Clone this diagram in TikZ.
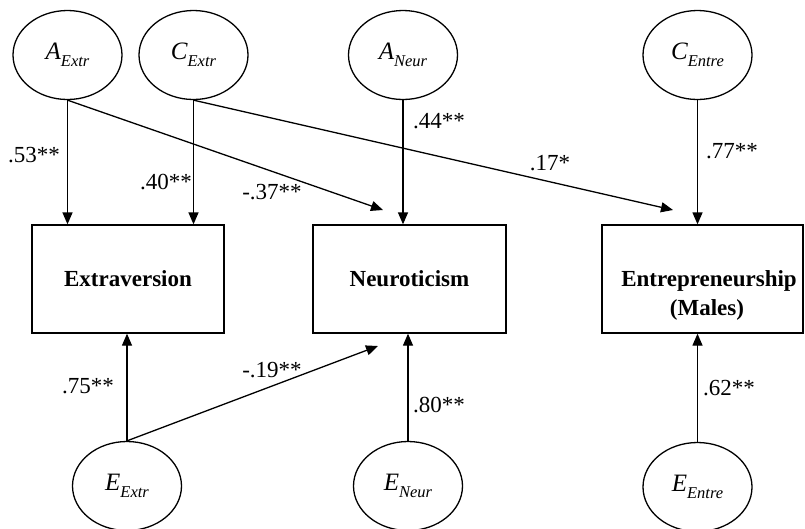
\documentclass[tikz,border=0pt]{standalone}
\usepackage{fontspec}
\setmainfont{Liberation Serif}
\usetikzlibrary{arrows.meta,shapes.geometric}
\newcommand{\latvar}[2]{{\fontsize{25}{25}\selectfont\itshape #1\raisebox{-7pt}{\fontsize{16.5}{16.5}\selectfont #2}}}
\begin{document}
\begin{tikzpicture}[x=1pt,y=-1pt,
  latent/.style={draw, ellipse, line width=1.3pt, minimum width=109pt, minimum height=89pt, inner sep=0pt},
  obs/.style={draw, rectangle, line width=1.3pt, minimum height=108pt, inner sep=0pt},
  pathar/.style={line width=1.3pt, -{Triangle[length=12pt,width=10pt]}},
  coef/.style={font=\fontsize{23}{23}\selectfont, inner sep=0pt},
  boxtext/.style={font=\fontsize{23}{27}\selectfont\bfseries, inner sep=0pt, align=center}]
\useasboundingbox (0,0) rectangle (805,528);

% latent variables
\node[latent] (aext) at (67.5,55) {\latvar{A}{Extr}};
\node[latent] (cext) at (193.5,55) {\latvar{C}{Extr}};
\node[latent] (aneu) at (403,55) {\latvar{A}{Neur}};
\node[latent] (cent) at (697.5,55) {\latvar{C}{Entre}};
\node[latent] (eext) at (127,486) {\latvar{E}{Extr}};
\node[latent] (eneu) at (408,486) {\latvar{E}{Neur}};
\node[latent] (eent) at (697.5,487) {\latvar{E}{Entre}};

% observed variables
\node[obs, minimum width=192pt] (ext) at (128,279) {};
\node[obs, minimum width=193pt] (neu) at (409.5,279) {};
\node[obs, minimum width=201pt] (ent) at (702.5,279) {};
\node[boxtext, anchor=base] (extt) at (128,286) {Extraversion};
\node[boxtext, anchor=base] (neut) at (409.5,286) {Neuroticism};
\node[boxtext, anchor=base] (entt1) at (709,286) {Entrepreneurship};
\node[boxtext, anchor=base] (entt2) at (707,315) {(Males)};

% free arrow ends
\coordinate (t1) at (383,210);
\coordinate (t2) at (673,210);
\coordinate (t3) at (378,346);

% paths
\draw[pathar] (aext.south) -- (aext.south |- ext.north);
\draw[pathar] (cext.south) -- (cext.south |- ext.north);
\draw[pathar] (aneu.south) -- (aneu.south |- neu.north);
\draw[pathar] (cent.south) -- (cent.south |- ent.north);
\draw[pathar] (aext.south) -- (t1);
\draw[pathar] (cext.south) -- (t2);
\draw[pathar] (eext.north) -- (eext.north |- ext.south);
\draw[pathar] (eneu.north) -- (eneu.north |- neu.south);
\draw[pathar] (eent.north) -- (eent.north |- ent.south);
\draw[pathar] (eext.north) -- (t3);

% coefficients
\node[coef] (c1) at (34,155) {.53**};
\node[coef] (c2) at (166,182) {.40**};
\node[coef] (c3) at (272,192) {-.37**};
\node[coef] (c4) at (439,121) {.44**};
\node[coef] (c5) at (550,163) {.17*};
\node[coef] (c6) at (732,151) {.77**};
\node[coef] (c7) at (88,386) {.75**};
\node[coef] (c8) at (272,370) {-.19**};
\node[coef] (c9) at (439,405) {.80**};
\node[coef] (c10) at (729,388) {.62**};
\end{tikzpicture}
\end{document}
